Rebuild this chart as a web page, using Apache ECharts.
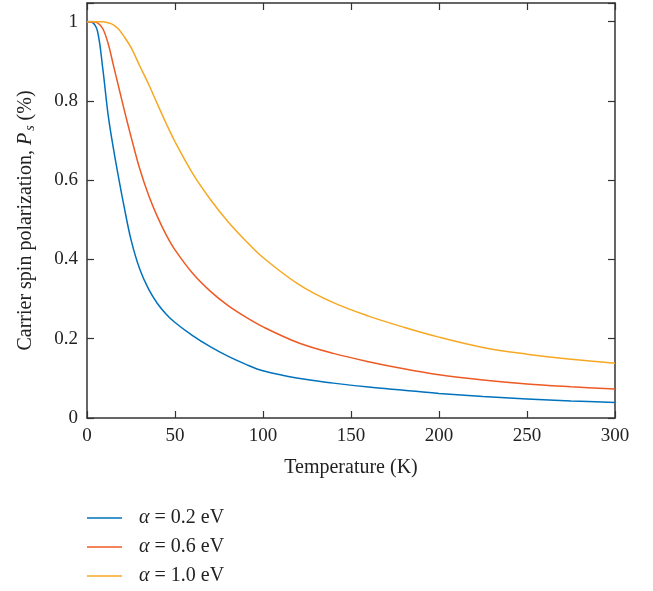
<!DOCTYPE html>
<html><head><meta charset="utf-8">
<script src="https://cdn.jsdelivr.net/npm/echarts@6/dist/echarts.min.js"></script>
<style>html,body{margin:0;padding:0;background:#fff}#c{width:653px;height:591px}</style>
</head><body><div id="c"></div>
<script>
// Temperature (K)
const temperatures = [0,3,6,9,12,15,18,21,25,30,35,40,45,50,60,70,80,90,100,120,140,160,180,200,225,250,275,300];
// Carrier spin polarization for each alpha
const alpha02 = [1,0.998,0.975,0.88,0.765,0.68,0.605,0.535,0.45,0.375,0.325,0.289,0.262,0.241,0.208,0.18,0.156,0.136,0.119,0.1,0.088,0.078,0.07,0.062,0.054,0.048,0.043,0.039];
const alpha06 = [1,1,0.997,0.982,0.945,0.89,0.835,0.78,0.71,0.628,0.562,0.508,0.462,0.424,0.365,0.32,0.284,0.255,0.23,0.19,0.163,0.142,0.124,0.109,0.096,0.086,0.079,0.073];
const alpha10 = [1,1,1,1,0.997,0.992,0.981,0.963,0.935,0.888,0.842,0.792,0.743,0.697,0.617,0.552,0.496,0.448,0.405,0.338,0.291,0.257,0.229,0.204,0.178,0.161,0.148,0.138];
const seriesNames = ['α = 0.2 eV','α = 0.6 eV','α = 1.0 eV'];
const xTicks = [0,50,100,150,200,250,300];
const yTicks = [0,0.2,0.4,0.6,0.8,1];

const colors = ['#0072BD','#EE5A24','#F7A823'];
const FONT = 'Liberation Serif';
const pair = arr => temperatures.map((t,i)=>[t,arr[i]]);
const axisCol = '#333';
const chart = echarts.init(document.getElementById('c'));
const yFmt = v => yTicks.some(t=>Math.abs(t-v)<1e-6) ? String(+v.toFixed(1)) : '';
const xFmt = v => xTicks.indexOf(v)>=0 ? String(v) : '';
const lineAx = {onZero:false,lineStyle:{color:axisCol,width:1.5}};
const tickAx = {inside:true,length:7,lineStyle:{color:axisCol,width:1.2}};
chart.setOption({
  animation:false,
  textStyle:{fontFamily:FONT},
  grid:{left:87,right:38,top:3,bottom:173,containLabel:false},
  legend:{
    orient:'vertical', left:87, top:507, height:90, padding:0,
    data:seriesNames.map(n=>({name:n,icon:'rect'})),
    itemWidth:35, itemHeight:1.5, itemGap:7,
    formatter: n => '{i|α}{t|' + n.slice(1) + '}',
    textStyle:{fontFamily:FONT,fontSize:20,color:'#222',padding:[0,0,0,12],lineHeight:22,
      rich:{i:{fontFamily:FONT,fontStyle:'italic',fontSize:20,color:'#222'},t:{fontFamily:FONT,fontSize:20,color:'#222'}}}
  },
  xAxis:[{
    type:'value', min:0, max:300, interval:50, position:'bottom',
    name:'Temperature (K)', nameLocation:'middle', nameGap:40,
    nameTextStyle:{fontFamily:FONT,fontSize:20,color:'#222'},
    axisLine:lineAx, axisTick:tickAx,
    axisLabel:{fontFamily:FONT,fontSize:19,color:'#222',margin:9,formatter:xFmt},
    splitLine:{show:false}
  },{
    type:'value', min:0, max:300, interval:50, position:'top',
    axisLine:lineAx, axisTick:tickAx,
    axisLabel:{show:false}, splitLine:{show:false}
  }],
  yAxis:[{
    type:'value', min:0, max:1.047, interval:0.2, position:'left',
    name:'{n|Carrier spin polarization, }{p|P}{s|s}{n| (%)}', nameLocation:'middle', nameGap:50,
    nameTextStyle:{fontFamily:FONT,fontSize:20,color:'#222',padding:[0,20,0,0],
      rich:{n:{fontFamily:FONT,fontSize:20,color:'#222'},p:{fontFamily:FONT,fontSize:20,fontStyle:'italic',color:'#222'},
            s:{fontFamily:FONT,fontSize:14,fontStyle:'italic',color:'#222',padding:[9,0,0,2]}}},
    axisLine:lineAx, axisTick:tickAx,
    axisLabel:{fontFamily:FONT,fontSize:19,color:'#222',margin:9,formatter:yFmt},
    splitLine:{show:false}
  },{
    type:'value', min:0, max:1.047, interval:0.2, position:'right',
    axisLine:Object.assign({show:true},lineAx), axisTick:Object.assign({show:true},tickAx),
    axisLabel:{show:false}, splitLine:{show:false}
  }],
  series:[alpha02,alpha06,alpha10].map((arr,i)=>({
    name:seriesNames[i], type:'line', data:pair(arr), smooth:0.35, showSymbol:false, symbol:'none',
    lineStyle:{color:colors[i],width:1.5}, itemStyle:{color:colors[i]}
  }))
});
</script></body></html>
